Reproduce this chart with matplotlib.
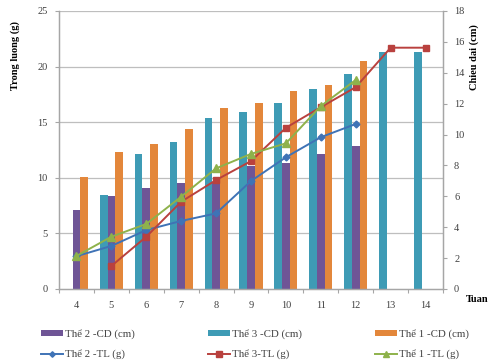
import numpy as np
import matplotlib.pyplot as plt
from matplotlib.lines import Line2D
from matplotlib.patches import Patch

nan = np.nan
weeks = [4, 5, 6, 7, 8, 9, 10, 11, 12, 13, 14]

# Body length (cm) - bars, right axis
cd_the2 = [5.13, 6.0, 6.54, 6.87, 6.87, 7.95, 8.17, 8.75, 9.25, nan, nan]
cd_the3 = [nan, 6.1, 8.75, 9.53, 11.05, 11.45, 12.02, 12.93, 13.95, 15.36, 15.36]
cd_the1 = [7.23, 8.9, 9.42, 10.33, 11.74, 12.02, 12.82, 13.24, 14.74, nan, nan]

# Body weight (g) - lines, left axis
tl_the2 = [2.95, 3.87, 5.3, 6.12, 6.8, 9.71, 11.85, 13.65, 14.84, nan, nan]
tl_the3 = [nan, 2.07, 4.7, 7.85, 9.8, 11.5, 14.5, 16.35, 18.15, 21.7, 21.7]
tl_the1 = [2.97, 4.7, 5.85, 8.3, 10.85, 12.15, 13.1, 16.45, 18.8, nan, nan]

labels_cd = ["Thể 2 -CD (cm)", "Thể 3 -CD (cm)", "Thể 1 -CD (cm)"]
labels_tl = ["Thể 2 -TL (g)", "Thể 3-TL (g)", "Thể 1 -TL (g)"]

c_purple, c_teal, c_orange = "#6F5596", "#3E9BB5", "#E3873B"
c_blue, c_red, c_green = "#3F73B6", "#B9413E", "#8EB24B"
grid_c = "#BEBEBE"
spine_c = "#A6A6A6"
txt_c = "#404040"

plt.rcParams["font.family"] = ["Liberation Serif", "DejaVu Serif"]

fig = plt.figure(figsize=(4.95, 3.64), dpi=100)
ax_b = fig.add_axes([59 / 495, 1 - 289 / 364, (443 - 59) / 495, (289 - 11) / 364])
ax_l = ax_b.twinx()

cd_max, tl_max = 18, 25
x = np.arange(len(weeks))
w = 0.22

# horizontal gridlines follow the weight axis ticks
tl_ticks = np.arange(0, tl_max + 1, 5)
for t in tl_ticks[1:]:
    ax_b.axhline(t * cd_max / tl_max, color=grid_c, lw=0.9, zorder=0)

ax_b.bar(x, np.array(cd_the2), w, color=c_purple, zorder=2)
ax_b.bar(x - w, np.array(cd_the3), w, color=c_teal, zorder=2)
ax_b.bar(x + w, np.array(cd_the1), w, color=c_orange, zorder=2)

ax_l.plot(x, tl_the2, color=c_blue, lw=1.4, marker="D", ms=3.5)
ax_l.plot(x, tl_the3, color=c_red, lw=1.4, marker="s", ms=5)
ax_l.plot(x, tl_the1, color=c_green, lw=1.4, marker="^", ms=5.5)

ax_b.set_xlim(-0.5, len(weeks) - 0.5)
ax_b.set_ylim(0, cd_max)
ax_l.set_ylim(0, tl_max)

ax_b.set_xticks(x)
ax_b.set_xticklabels([str(v) for v in weeks])
ax_b.set_xticks(np.arange(-0.5, len(weeks), 1.0), minor=True)
ax_b.tick_params(axis="x", which="major", length=0, pad=9, labelsize=7.5, labelcolor=txt_c)
ax_b.tick_params(axis="x", which="minor", length=3, color=spine_c, width=0.8)

ax_b.yaxis.tick_right()
ax_b.set_yticks(np.arange(0, cd_max + 1, 2))
ax_b.tick_params(axis="y", length=3, color=spine_c, width=0.8, pad=5,
                 labelsize=7.5, labelcolor=txt_c)

ax_l.yaxis.tick_left()
ax_l.yaxis.set_label_position("left")
ax_l.set_yticks(tl_ticks)
ax_l.tick_params(axis="y", length=3, color=spine_c, width=0.8, pad=5,
                 labelsize=7.5, labelcolor=txt_c)

for a in (ax_b, ax_l):
    a.spines["top"].set_visible(False)
    for s in ("left", "right", "bottom"):
        a.spines[s].set_color(spine_c)
        a.spines[s].set_linewidth(0.9)

fig.text(15 / 495, 1 - 55 / 364, "Trong luong (g)", rotation=90, ha="center", va="center",
         fontsize=7.5, fontweight="bold")
fig.text(474 / 495, 1 - 57 / 364, "Chieu dai (cm)", rotation=90, ha="center", va="center",
         fontsize=7.5, fontweight="bold")
fig.text(477 / 495, 1 - 300 / 364, "Tuan", ha="center", va="center",
         fontsize=7.5, fontweight="bold")

bar_colors = [c_purple, c_teal, c_orange]
line_specs = [(c_blue, "D", 3.5), (c_red, "s", 5), (c_green, "^", 5.5)]
col_x = [41, 208, 375]
for i in range(3):
    handles = [Patch(facecolor=bar_colors[i], edgecolor="none"),
               Line2D([], [], color=line_specs[i][0], lw=1.4, marker=line_specs[i][1],
                      ms=line_specs[i][2] * 0.8)]
    fig.legend(handles, [labels_cd[i], labels_tl[i]], loc="upper left",
               bbox_to_anchor=(col_x[i] / 495, 1 - 329 / 364), frameon=False,
               fontsize=7.8, handlelength=2.0, handleheight=0.4, handletextpad=0.2,
               labelspacing=0.95, borderpad=0, borderaxespad=0, labelcolor=txt_c)

fig.savefig("out.png", dpi=100)
